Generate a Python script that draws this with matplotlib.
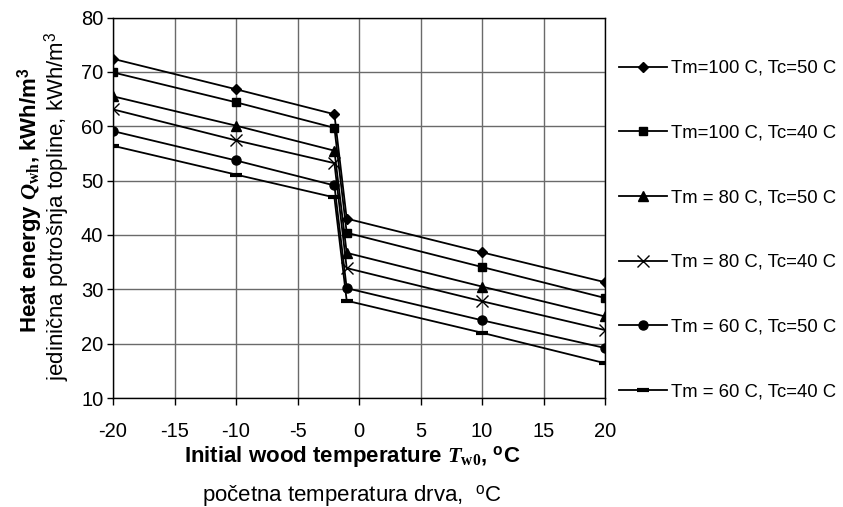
"""Heat energy vs initial wood temperature for six Tm/Tc combinations."""

import matplotlib

matplotlib.use("Agg")
import matplotlib.pyplot as plt

plt.rcParams["font.family"] = ["Liberation Sans", "DejaVu Sans"]
plt.rcParams["axes.unicode_minus"] = False
plt.rcParams["mathtext.fontset"] = "custom"
plt.rcParams["mathtext.rm"] = "Liberation Sans"
plt.rcParams["mathtext.it"] = "Liberation Serif:italic:bold"
plt.rcParams["mathtext.bf"] = "Liberation Serif:bold"
plt.rcParams["mathtext.sf"] = "Liberation Sans:bold"

# initial wood temperature, °C
wood_temp = [-20, -10, -2, -1, 10, 20]

# heat energy, kWh/m3
q_100_50 = [72.4, 66.8, 62.2, 43.0, 36.8, 31.3]
q_100_40 = [69.9, 64.4, 59.7, 40.4, 34.1, 28.4]
q_80_50 = [65.5, 60.1, 55.5, 36.7, 30.5, 25.0]
q_80_40 = [63.1, 57.4, 53.2, 33.9, 27.8, 22.5]
q_60_50 = [59.1, 53.7, 49.1, 30.2, 24.3, 19.2]
q_60_40 = [56.4, 51.1, 46.9, 27.9, 22.0, 16.4]

labels = [
    "Tm=100 C, Tc=50 C",
    "Tm=100 C, Tc=40 C",
    "Tm = 80 C, Tc=50 C",
    "Tm = 80 C, Tc=40 C",
    "Tm = 60 C, Tc=50 C",
    "Tm = 60 C, Tc=40 C",
]
series = [q_100_50, q_100_40, q_80_50, q_80_40, q_60_50, q_60_40]
# marker, size, edge width
markers = [("D", 5.5, 1.0), ("s", 6, 1.0), ("^", 6.5, 1.0),
           ("x", 8.5, 1.0), ("o", 6.5, 1.0), ("_", 9, 3.0)]

fig = plt.figure(figsize=(8.43, 5.07), dpi=100)
ax = fig.add_axes([113 / 843, 1 - 398 / 507, (605 - 113) / 843, (398 - 17.5) / 507])

for vals, lab, (m, ms, mew) in zip(series, labels, markers):
    ax.plot(wood_temp, vals, color="black", lw=1.3, marker=m, markersize=ms,
            markeredgewidth=mew, markerfacecolor="black", markeredgecolor="black",
            label=lab)

ax.set_xlim(-20, 20)
ax.set_ylim(10, 80)
ax.set_xticks(range(-20, 21, 5))
ax.set_yticks(range(10, 81, 10))
ax.grid(True, color="#6a6a6a", lw=1.0)
ax.set_axisbelow(True)
for s in ax.spines.values():
    s.set_color("black")
    s.set_linewidth(1.0)
ax.tick_params(direction="out", width=1, labelsize=14.5)
ax.tick_params(axis="y", length=4, pad=3)
ax.tick_params(axis="x", length=5, pad=12)

fig.text(30 / 843, 1 - 200 / 507,
         r"Heat energy $\mathit{Q}_{\mathbf{wh}}$, kWh/m$^{\mathsf{3}}$",
         rotation=90, ha="center", va="center", fontsize=16, fontweight="bold")
fig.text(57 / 843, 1 - 206 / 507,
         r"jedinična potrošnja topline, kWh/m$^{\mathrm{3}}$",
         rotation=90, ha="center", va="center", fontsize=16)
fig.text(352 / 843, 1 - 462 / 507,
         r"Initial wood temperature $\mathit{T}_{\mathbf{w0}}$, $^{\mathsf{o}}$C",
         ha="center", va="baseline", fontsize=16, fontweight="bold")
fig.text(352 / 843, 1 - 501 / 507,
         r"početna temperatura drva,  $^{\mathrm{o}}$C",
         ha="center", va="baseline", fontsize=16)

fig.legend(loc="upper left", bbox_to_anchor=(619 / 843, 1 - 60 / 507),
           frameon=False, fontsize=13.3, handlelength=2.6, handletextpad=0.2,
           labelspacing=2.58, borderpad=0, borderaxespad=0)

fig.savefig("out.png", dpi=100)
